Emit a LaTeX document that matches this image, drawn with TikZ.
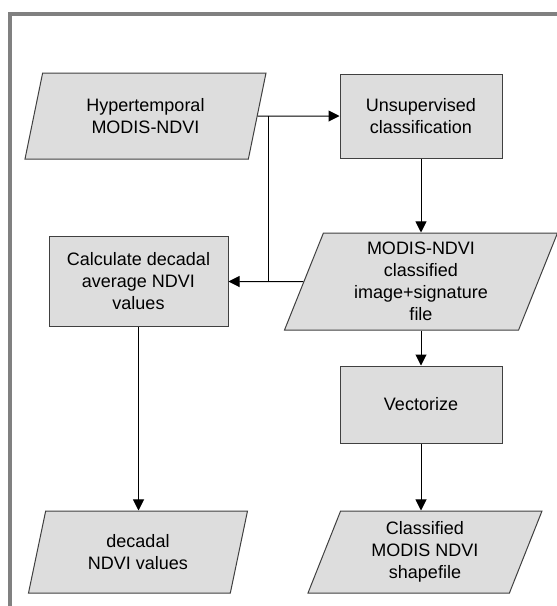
\documentclass[tikz,border=0pt]{standalone}
\usepackage{fontspec}
\setmainfont{Liberation Sans}
\usetikzlibrary{shapes.geometric,arrows.meta}
\definecolor{boxgrey}{HTML}{DDDDDD}
\definecolor{edgegrey}{HTML}{404040}
\definecolor{framegrey}{HTML}{808080}
\tikzset{
  boxbase/.style={draw=edgegrey, fill=boxgrey, line width=1pt, align=center,
    inner sep=0pt, font=\fontsize{18}{22}\selectfont},
  proc/.style={boxbase, rectangle},
  io/.style={boxbase, trapezium, trapezium stretches body},
  link/.style={draw=black, line width=1pt},
  flow/.style={link, -{Triangle[length=11pt,width=11pt]}}
}
\begin{document}
\begin{tikzpicture}[x=1pt,y=-1pt]
\useasboundingbox (0,0) rectangle (557,606);
% frame: top and left rules only
\draw[framegrey, line width=4pt] (8,14) -- (557,14);
\draw[framegrey, line width=4pt] (10,12) -- (10,606);

% input / output parallelograms and process boxes
\node[io, trapezium left angle=63.4, trapezium right angle=116.6,
      minimum width=241pt, minimum height=86pt] (hyper) at (145.5,116)
      {Hypertemporal\\MODIS-NDVI};
\node[proc, minimum width=162pt, minimum height=84pt] (unsup) at (421,116)
      {Unsupervised\\classification};
\node[proc, minimum width=179pt, minimum height=90pt] (calc) at (138.5,281.5)
      {Calculate decadal\\average NDVI\\values};
\node[io, trapezium left angle=63.7, trapezium right angle=116.3,
      minimum width=273pt, minimum height=97pt] (modis) at (421,281.5)
      {MODIS-NDVI\\classified\\image+signature\\file};
\node[proc, minimum width=162pt, minimum height=77pt] (vect) at (421,404.5)
      {Vectorize};
\node[io, trapezium left angle=64, trapezium right angle=116,
      minimum width=219pt, minimum height=82pt] (decadal) at (138,552)
      {decadal\\NDVI values};
\node[io, trapezium left angle=61.8, trapezium right angle=118.2,
      minimum width=234pt, minimum height=82pt] (classed) at (425,552)
      {Classified\\MODIS NDVI\\shapefile};

% connectors
\coordinate (split) at (268,116);
\draw[flow] (hyper.east) -- (unsup.west);
\draw[link] (split) -- (split |- modis.west);
\draw[flow] (modis.west) -- (calc.east);
\draw[flow] (unsup.south) -- (unsup.south |- modis.north);
\draw[flow] (vect.north |- modis.south) -- (vect.north);
\draw[flow] (vect.south) -- (vect.south |- classed.north);
\draw[flow] (calc.south) -- (calc.south |- decadal.north);
\end{tikzpicture}
\end{document}
